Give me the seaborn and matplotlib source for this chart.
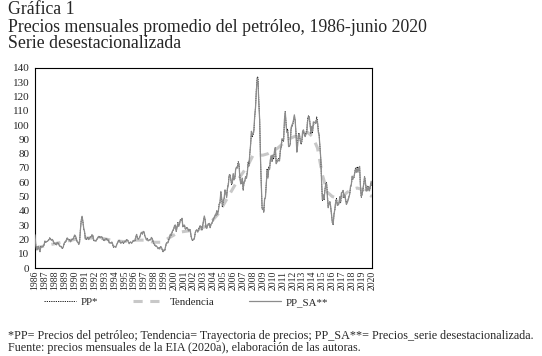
import pandas as pd
import seaborn as sns
import matplotlib.pyplot as plt

# ==== DATA (monthly, Jan 1986 - Jan 2020) ====
years = list(range(1986, 2021))

pp = [
    22.93, 15.46, 12.61, 12.84, 15.38, 13.43, 11.59, 15.10, 14.87, 14.90, 15.22, 16.11,
    18.65, 17.75, 18.30, 18.68, 19.44, 20.07, 21.34, 20.31, 19.53, 19.86, 18.85, 17.28,
    17.13, 16.80, 16.20, 17.86, 17.42, 16.53, 15.50, 15.52, 14.54, 13.77, 14.14, 16.38,
    18.02, 17.94, 19.48, 21.07, 20.12, 20.05, 19.78, 18.58, 19.59, 20.10, 19.86, 21.10,
    22.86, 22.11, 20.39, 18.43, 18.20, 16.70, 18.45, 27.31, 33.51, 36.04, 32.33, 27.28,
    25.23, 20.48, 19.90, 20.83, 21.23, 20.19, 21.40, 21.69, 21.89, 23.23, 22.46, 19.50,
    18.79, 19.01, 18.92, 20.23, 20.98, 22.39, 21.78, 21.34, 21.88, 21.69, 20.34, 19.41,
    19.03, 20.09, 20.32, 20.25, 19.95, 19.09, 17.89, 18.01, 17.50, 18.15, 16.61, 14.52,
    15.03, 14.78, 14.68, 16.42, 17.89, 19.06, 19.66, 18.38, 17.45, 17.72, 18.07, 17.16,
    18.04, 18.57, 18.54, 19.90, 19.74, 18.45, 17.33, 18.02, 18.23, 17.43, 17.99, 19.03,
    18.85, 19.09, 21.33, 23.50, 21.17, 20.42, 21.30, 21.90, 23.97, 24.88, 23.71, 25.23,
    25.13, 22.18, 20.97, 19.70, 20.82, 19.26, 19.66, 19.95, 19.80, 21.33, 20.19, 18.33,
    16.72, 16.06, 15.12, 15.35, 14.91, 13.72, 14.17, 13.47, 15.03, 14.46, 13.00, 11.35,
    12.52, 12.01, 14.68, 17.31, 17.72, 17.92, 20.10, 21.28, 23.80, 22.69, 25.00, 26.10,
    27.26, 29.37, 29.84, 25.72, 28.79, 31.82, 29.70, 31.26, 33.88, 33.11, 34.42, 28.44,
    29.59, 29.61, 27.25, 27.49, 28.63, 27.60, 26.43, 27.37, 26.20, 22.17, 19.64, 19.39,
    19.72, 20.72, 24.53, 26.18, 27.04, 25.52, 26.97, 28.39, 29.66, 28.84, 26.35, 29.46,
    32.95, 35.83, 33.51, 28.17, 28.11, 30.66, 30.76, 31.57, 28.31, 30.34, 31.11, 32.13,
    34.31, 34.69, 36.74, 36.75, 40.28, 38.03, 40.78, 44.90, 45.94, 53.28, 48.47, 43.15,
    46.84, 48.15, 54.19, 52.98, 49.83, 56.35, 59.00, 64.99, 65.59, 62.26, 58.32, 59.41,
    65.49, 61.63, 62.69, 69.44, 70.84, 70.95, 74.41, 73.04, 63.80, 58.89, 59.08, 61.96,
    54.51, 59.28, 60.44, 63.98, 63.46, 67.49, 74.12, 72.36, 79.92, 85.80, 94.77, 91.69,
    92.97, 95.39, 105.45, 112.58, 125.40, 133.88, 133.37, 116.67, 104.11, 76.61, 57.31, 41.12,
    41.71, 39.09, 47.94, 49.65, 59.03, 69.64, 64.15, 71.05, 69.41, 75.72, 77.99, 74.47,
    78.33, 76.39, 81.20, 84.29, 73.74, 75.34, 76.32, 76.60, 75.24, 81.89, 84.25, 89.15,
    89.17, 88.58, 102.86, 109.53, 100.90, 96.26, 97.30, 86.33, 85.52, 86.32, 97.16, 98.56,
    100.27, 102.20, 106.16, 103.32, 94.66, 82.30, 87.90, 94.13, 94.51, 89.49, 86.53, 87.86,
    94.76, 95.31, 92.94, 92.02, 94.51, 95.77, 104.67, 106.57, 106.29, 100.54, 93.86, 97.63,
    94.62, 100.82, 100.80, 102.07, 102.18, 105.79, 103.59, 96.54, 93.21, 84.40, 75.79, 59.29,
    47.22, 50.58, 47.82, 54.45, 59.27, 59.82, 50.90, 42.87, 45.48, 46.22, 42.44, 37.19,
    31.68, 30.32, 37.55, 40.75, 46.71, 48.76, 44.65, 44.72, 45.18, 49.78, 45.66, 51.97,
    52.50, 53.47, 49.33, 51.06, 48.48, 45.18, 46.63, 48.04, 49.82, 51.58, 56.64, 57.88,
    63.70, 62.23, 62.73, 66.25, 69.98, 67.87, 70.98, 68.06, 70.23, 70.75, 56.96, 49.52,
    51.38, 54.95, 58.15, 63.86, 60.83, 54.66, 57.35, 54.81, 56.95, 53.96, 57.03, 59.88,
    57.52,
]

pp_sa = [
    23.2, 15.7, 12.7, 12.8, 15.2, 13.2, 11.4, 14.9, 14.8, 15.0, 15.4, 16.3,
    18.9, 18.0, 18.5, 18.7, 19.2, 19.8, 20.9, 20.0, 19.4, 20.0, 19.0, 17.5,
    17.3, 17.1, 16.4, 17.9, 17.2, 16.3, 15.2, 15.3, 14.5, 13.9, 14.3, 16.6,
    18.2, 18.2, 19.7, 21.1, 19.9, 19.8, 19.4, 18.3, 19.5, 20.2, 20.1, 21.4,
    23.1, 22.4, 20.6, 18.4, 18.0, 16.5, 18.1, 26.9, 33.3, 36.2, 32.6, 27.7,
    25.5, 20.8, 20.1, 20.8, 21.0, 19.9, 21.0, 21.4, 21.8, 23.3, 22.7, 19.8,
    19.0, 19.3, 19.1, 20.2, 20.8, 22.1, 21.3, 21.0, 21.8, 21.8, 20.5, 19.7,
    19.2, 20.4, 20.5, 20.2, 19.7, 18.8, 17.5, 17.7, 17.4, 18.2, 16.8, 14.7,
    15.2, 15.0, 14.8, 16.4, 17.7, 18.8, 19.3, 18.1, 17.4, 17.8, 18.3, 17.4,
    18.2, 18.8, 18.7, 19.9, 19.5, 18.2, 17.0, 17.8, 18.1, 17.5, 18.2, 19.3,
    19.0, 19.4, 21.5, 23.5, 20.9, 20.1, 20.9, 21.6, 23.9, 25.0, 24.0, 25.6,
    25.4, 22.5, 21.2, 19.7, 20.6, 19.0, 19.3, 19.7, 19.7, 21.4, 20.4, 18.6,
    16.9, 16.3, 15.3, 15.3, 14.7, 13.5, 13.9, 13.3, 15.0, 14.5, 13.1, 11.5,
    12.6, 12.2, 14.8, 17.3, 17.5, 17.7, 19.7, 21.0, 23.7, 22.8, 25.2, 26.5,
    27.5, 29.8, 30.1, 25.7, 28.5, 31.3, 29.1, 30.8, 33.7, 33.3, 34.8, 28.9,
    29.9, 30.0, 27.5, 27.5, 28.3, 27.2, 25.9, 27.0, 26.1, 22.3, 19.8, 19.7,
    19.9, 21.0, 24.8, 26.2, 26.7, 25.1, 26.4, 28.0, 29.5, 29.0, 26.6, 29.9,
    33.3, 36.4, 33.8, 28.2, 27.8, 30.2, 30.1, 31.1, 28.2, 30.5, 31.4, 32.6,
    34.7, 35.2, 37.1, 36.8, 39.8, 37.5, 40.0, 44.2, 45.7, 53.6, 48.9, 43.8,
    47.3, 48.9, 54.7, 53.0, 49.3, 55.5, 57.8, 64.0, 65.3, 62.6, 58.9, 60.3,
    66.1, 62.6, 63.3, 69.4, 70.1, 69.9, 72.9, 71.9, 63.5, 59.2, 59.7, 62.9,
    55.1, 60.2, 61.0, 64.0, 62.8, 66.5, 72.6, 71.3, 79.5, 86.2, 95.7, 93.1,
    93.9, 96.8, 106.5, 112.6, 124.1, 131.9, 130.7, 114.9, 103.6, 77.0, 57.9, 41.7,
    42.1, 39.7, 48.4, 49.7, 58.4, 68.6, 62.9, 70.0, 69.1, 76.1, 78.8, 75.6,
    79.1, 77.5, 82.0, 84.3, 73.0, 74.2, 74.8, 75.5, 74.9, 82.3, 85.1, 90.5,
    90.1, 89.9, 103.9, 109.5, 99.9, 94.8, 95.4, 85.0, 85.1, 86.7, 98.1, 100.0,
    101.3, 103.7, 107.2, 103.3, 93.7, 81.1, 86.1, 92.7, 94.0, 89.9, 87.4, 89.2,
    95.7, 96.7, 93.9, 92.0, 93.6, 94.3, 102.6, 105.0, 105.8, 101.0, 94.8, 99.1,
    95.6, 102.3, 101.8, 102.1, 101.2, 104.2, 101.5, 95.1, 92.7, 84.8, 76.5, 60.2,
    47.7, 51.3, 48.3, 54.5, 58.7, 58.9, 49.9, 42.2, 45.3, 46.4, 42.9, 37.7,
    32.0, 30.8, 37.9, 40.8, 46.2, 48.0, 43.8, 44.1, 45.0, 50.0, 46.1, 52.7,
    53.0, 54.3, 49.8, 51.1, 48.0, 44.5, 45.7, 47.3, 49.6, 51.8, 57.2, 58.7,
    64.3, 63.2, 63.4, 66.3, 69.3, 66.9, 69.6, 67.0, 69.9, 71.1, 57.5, 50.2,
    51.9, 55.8, 58.7, 63.9, 60.2, 53.8, 56.2, 54.0, 56.7, 54.2, 57.6, 60.7,
    58.1,
]

# trend at a few points (year, value)
trend_year = [1986.0, 1987.0, 1988.0, 1989.0, 1990.0, 1991.0, 1992.0, 1993.0, 1994.0,
              1995.0, 1996.0, 1997.0, 1998.0, 1998.75, 1999.5, 2000.5, 2001.5, 2002.5,
              2003.5, 2004.5, 2005.5, 2006.5, 2007.5, 2008.0, 2009.0, 2009.5, 2010.5,
              2011.5, 2012.5, 2013.5, 2014.0, 2014.5, 2015.0, 2015.5, 2016.0, 2016.5,
              2017.0, 2017.5, 2018.0, 2018.5, 2019.0, 2019.5, 2020.0]
trend_val = [14, 15.5, 17, 18.5, 20, 21, 21, 20.5, 19, 18.5, 19.5, 19.5, 18, 18, 21, 25,
             26, 27, 30, 38, 50, 62, 72, 79, 79, 80, 84, 90, 93, 95, 92, 84, 65, 53, 50,
             49, 50, 53, 55, 56, 55, 52, 50]

# ==== TABLES ====
series = pd.DataFrame({'mes': range(len(pp)), 'PP': pp, 'PP_SA': pp_sa})
trend = pd.DataFrame({'mes': [(y - 1986) * 12 for y in trend_year], 'val': trend_val})

# ==== PLOT ====
sns.set_style('white')
plt.rcParams['font.family'] = ['Liberation Serif', 'DejaVu Serif']

fig = plt.figure(figsize=(5.42, 3.56), dpi=100)
ax = fig.add_axes([35 / 542, 1 - 268 / 356, 337 / 542, 200 / 356])

sns.lineplot(data=series, x='mes', y='PP', ax=ax, color='black', lw=0.6,
             linestyle=(0, (1.5, 1.2)), label='PP*', zorder=3)
sns.lineplot(data=trend, x='mes', y='val', ax=ax, color='#c8c8c8', lw=2.2,
             linestyle=(0, (3, 2.5)), label='Tendencia', zorder=2)
sns.lineplot(data=series, x='mes', y='PP_SA', ax=ax, color='#8c8c8c', lw=0.9,
             label='PP_SA**', zorder=4)

ax.set_xlim(0, 408)
ax.set_ylim(0, 140)
ax.set_yticks(range(0, 141, 10))
ax.set_xticks([(y - 1986) * 12 for y in years])
ax.set_xticklabels(years, rotation=90, fontsize=7)
ax.tick_params(axis='y', labelsize=8, length=0, pad=4)
ax.tick_params(axis='x', length=0, pad=2)
ax.set_xlabel('')
ax.set_ylabel('')
for s in ax.spines.values():
    s.set_color('black')
    s.set_linewidth(0.8)

ax.legend(loc='center', bbox_to_anchor=(186 / 542, 1 - 302 / 356),
          bbox_transform=fig.transFigure, ncol=3, frameon=False, fontsize=7.8,
          handlelength=3.0, columnspacing=3.2, handletextpad=0.4)

fig.text(8 / 542, 1 - 10 / 356, 'Gráfica 1', fontsize=12.8, va='center')
fig.text(8 / 542, 1 - 27 / 356, 'Precios mensuales promedio del petróleo, 1986-junio 2020',
         fontsize=12.8, va='center')
fig.text(8 / 542, 1 - 44 / 356, 'Serie desestacionalizada', fontsize=12.8, va='center')
fig.text(8 / 542, 1 - 336 / 356,
         '*PP= Precios del petróleo; Tendencia= Trayectoria de precios; '
         'PP_SA**= Precios_serie desestacionalizada.', fontsize=8.7, va='center')
fig.text(8 / 542, 1 - 348 / 356,
         'Fuente: precios mensuales de la EIA (2020a), elaboración de las autoras.',
         fontsize=8.7, va='center')

fig.savefig('out.png', dpi=100)
